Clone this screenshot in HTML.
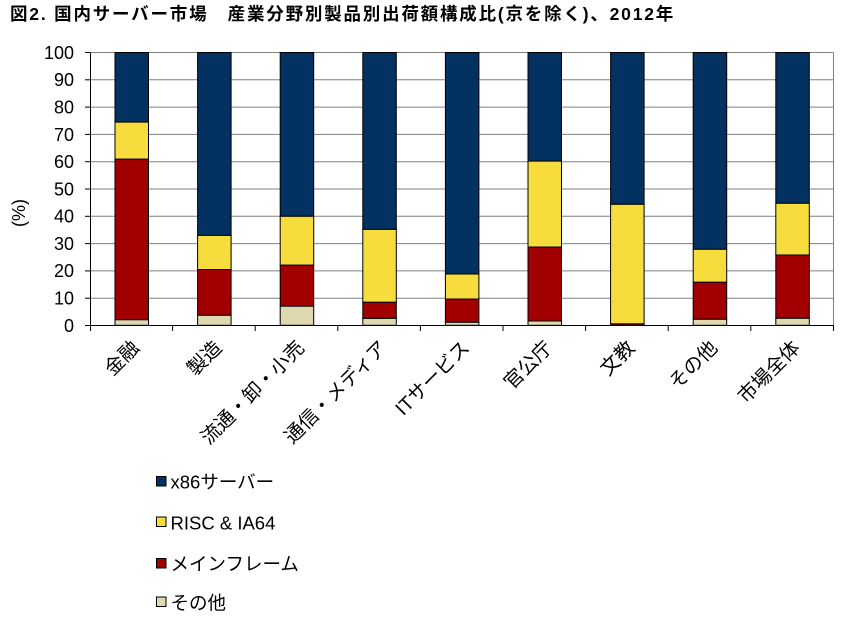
<!DOCTYPE html>
<html><head><meta charset="utf-8"><style>
html,body{margin:0;padding:0;background:#fff;}
svg{display:block;}
text{font-family:"Liberation Sans","Noto Sans CJK JP",sans-serif;fill:#000;}
</style></head><body>
<svg width="848" height="630" viewBox="0 0 848 630" xmlns="http://www.w3.org/2000/svg">
<text x="10" y="20" font-size="17.5" font-weight="bold" letter-spacing="1.8">図2. 国内サーバー市場　産業分野別製品別出荷額構成比(京を除く)、2012年</text>
<g stroke="#808080" stroke-width="1">
<line x1="90" y1="52.5" x2="833.5" y2="52.5"/>
<line x1="90" y1="79.8" x2="833.5" y2="79.8"/>
<line x1="90" y1="107.1" x2="833.5" y2="107.1"/>
<line x1="90" y1="134.4" x2="833.5" y2="134.4"/>
<line x1="90" y1="161.7" x2="833.5" y2="161.7"/>
<line x1="90" y1="189.0" x2="833.5" y2="189.0"/>
<line x1="90" y1="216.3" x2="833.5" y2="216.3"/>
<line x1="90" y1="243.6" x2="833.5" y2="243.6"/>
<line x1="90" y1="270.9" x2="833.5" y2="270.9"/>
<line x1="90" y1="298.2" x2="833.5" y2="298.2"/>
<line x1="833.5" y1="52.5" x2="833.5" y2="325.5"/>
</g>
<g stroke="#000" stroke-width="1">
<line x1="90.5" y1="52.5" x2="90.5" y2="325.5"/>
<line x1="85" y1="52.5" x2="90" y2="52.5"/>
<line x1="85" y1="79.8" x2="90" y2="79.8"/>
<line x1="85" y1="107.1" x2="90" y2="107.1"/>
<line x1="85" y1="134.4" x2="90" y2="134.4"/>
<line x1="85" y1="161.7" x2="90" y2="161.7"/>
<line x1="85" y1="189.0" x2="90" y2="189.0"/>
<line x1="85" y1="216.3" x2="90" y2="216.3"/>
<line x1="85" y1="243.6" x2="90" y2="243.6"/>
<line x1="85" y1="270.9" x2="90" y2="270.9"/>
<line x1="85" y1="298.2" x2="90" y2="298.2"/>
<line x1="85" y1="325.5" x2="90" y2="325.5"/>
</g>
<g font-size="18" text-anchor="end">
<text x="74" y="59">100</text>
<text x="74" y="86">90</text>
<text x="74" y="113.5">80</text>
<text x="74" y="141">70</text>
<text x="74" y="168">60</text>
<text x="74" y="195.5">50</text>
<text x="74" y="222.5">40</text>
<text x="74" y="250">30</text>
<text x="74" y="277">20</text>
<text x="74" y="304.5">10</text>
<text x="74" y="332">0</text>
</g>
<text transform="translate(25,213) rotate(-90)" font-size="18" text-anchor="middle">(%)</text>
<g stroke="#000" stroke-width="1">
<rect x="115" y="52.5" width="33.5" height="69.6" fill="#033162"/>
<rect x="115" y="122.1" width="33.5" height="37.1" fill="#F6DC3C"/>
<rect x="115" y="159.2" width="33.5" height="160.6" fill="#A20000"/>
<rect x="115" y="319.8" width="33.5" height="5.5" fill="#DDD8B0"/>
<rect x="197.6" y="52.5" width="33.5" height="182.9" fill="#033162"/>
<rect x="197.6" y="235.4" width="33.5" height="34.1" fill="#F6DC3C"/>
<rect x="197.6" y="269.5" width="33.5" height="45.8" fill="#A20000"/>
<rect x="197.6" y="315.3" width="33.5" height="10.0" fill="#DDD8B0"/>
<rect x="280.2" y="52.5" width="33.5" height="163.8" fill="#033162"/>
<rect x="280.2" y="216.3" width="33.5" height="48.9" fill="#F6DC3C"/>
<rect x="280.2" y="265.2" width="33.5" height="41.0" fill="#A20000"/>
<rect x="280.2" y="306.2" width="33.5" height="19.1" fill="#DDD8B0"/>
<rect x="362.8" y="52.5" width="33.5" height="176.9" fill="#033162"/>
<rect x="362.8" y="229.4" width="33.5" height="72.9" fill="#F6DC3C"/>
<rect x="362.8" y="302.3" width="33.5" height="16.1" fill="#A20000"/>
<rect x="362.8" y="318.4" width="33.5" height="6.9" fill="#DDD8B0"/>
<rect x="445.4" y="52.5" width="33.5" height="221.5" fill="#033162"/>
<rect x="445.4" y="274.0" width="33.5" height="25.1" fill="#F6DC3C"/>
<rect x="445.4" y="299.1" width="33.5" height="23.2" fill="#A20000"/>
<rect x="445.4" y="322.3" width="33.5" height="3.0" fill="#DDD8B0"/>
<rect x="528" y="52.5" width="33.5" height="108.6" fill="#033162"/>
<rect x="528" y="161.1" width="33.5" height="86.0" fill="#F6DC3C"/>
<rect x="528" y="247.1" width="33.5" height="73.9" fill="#A20000"/>
<rect x="528" y="321.0" width="33.5" height="4.3" fill="#DDD8B0"/>
<rect x="610.6" y="52.5" width="33.5" height="151.8" fill="#033162"/>
<rect x="610.6" y="204.3" width="33.5" height="119.6" fill="#F6DC3C"/>
<rect x="610.6" y="323.9" width="33.5" height="1.4" fill="#A20000"/>
<rect x="693.2" y="52.5" width="33.5" height="196.8" fill="#033162"/>
<rect x="693.2" y="249.3" width="33.5" height="33.0" fill="#F6DC3C"/>
<rect x="693.2" y="282.3" width="33.5" height="37.0" fill="#A20000"/>
<rect x="693.2" y="319.3" width="33.5" height="6.0" fill="#DDD8B0"/>
<rect x="775.8" y="52.5" width="33.5" height="150.8" fill="#033162"/>
<rect x="775.8" y="203.3" width="33.5" height="51.7" fill="#F6DC3C"/>
<rect x="775.8" y="255.0" width="33.5" height="63.3" fill="#A20000"/>
<rect x="775.8" y="318.3" width="33.5" height="7.0" fill="#DDD8B0"/>
</g>
<g stroke="#000" stroke-width="1">
<line x1="90" y1="325.5" x2="833.5" y2="325.5"/>
<line x1="90.5" y1="325" x2="90.5" y2="331"/>
<line x1="172.6" y1="325" x2="172.6" y2="331"/>
<line x1="255.2" y1="325" x2="255.2" y2="331"/>
<line x1="337.8" y1="325" x2="337.8" y2="331"/>
<line x1="420.4" y1="325" x2="420.4" y2="331"/>
<line x1="503" y1="325" x2="503" y2="331"/>
<line x1="585.6" y1="325" x2="585.6" y2="331"/>
<line x1="668.2" y1="325" x2="668.2" y2="331"/>
<line x1="750.8" y1="325" x2="750.8" y2="331"/>
<line x1="833.5" y1="325" x2="833.5" y2="331"/>
</g>
<g font-size="19.5" text-anchor="end">
<text transform="translate(140.3,349) rotate(-45)">金融</text>
<text transform="translate(222.9,349) rotate(-45)">製造</text>
<text transform="translate(305.5,349) rotate(-45)">流通・卸・小売</text>
<text transform="translate(388.1,349) rotate(-45)">通信・メディア</text>
<text transform="translate(470.7,349) rotate(-45)">ITサービス</text>
<text transform="translate(553.3,349) rotate(-45)">官公庁</text>
<text transform="translate(635.9,349) rotate(-45)">文教</text>
<text transform="translate(718.5,349) rotate(-45)">その他</text>
<text transform="translate(801.1,349) rotate(-45)">市場全体</text>
</g>
<g stroke="#000" stroke-width="1">
<rect x="156.5" y="476.5" width="9.5" height="9.5" fill="#033162"/>
<rect x="156.5" y="517" width="9.5" height="9.5" fill="#F6DC3C"/>
<rect x="156.5" y="558.5" width="9.5" height="9.5" fill="#A20000"/>
<rect x="156.5" y="597" width="9.5" height="9.5" fill="#DDD8B0"/>
</g>
<g font-size="18.5">
<text x="170.5" y="488.5">x86サーバー</text>
<text x="170.5" y="529.5">RISC &amp; IA64</text>
<text x="170.5" y="570.5">メインフレーム</text>
<text x="170.5" y="609.5">その他</text>
</g>
</svg>
</body></html>
